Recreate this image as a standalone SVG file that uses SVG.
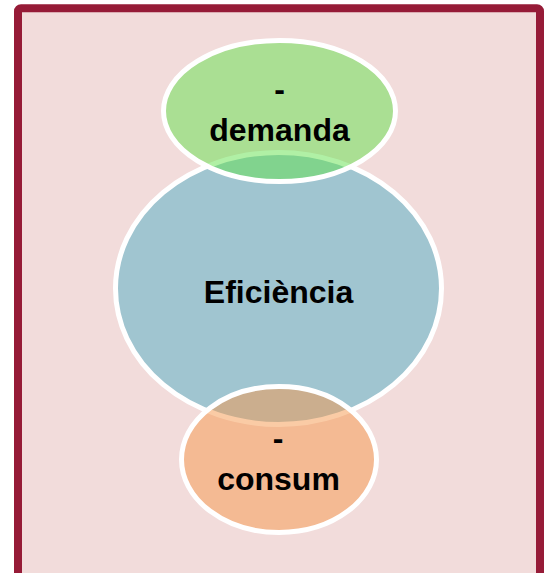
<svg xmlns="http://www.w3.org/2000/svg" width="545" height="573" viewBox="0 0 545 573">
  <style>
    .lbl { font-family: "Liberation Sans", Arial, sans-serif; font-weight: bold; font-size: 32px; fill: #000000; text-anchor: middle; }
    .node { stroke: #FFFFFF; stroke-width: 5; }
  </style>
  <rect width="545" height="573" fill="#FFFFFF"/>
  <g id="frame">
    <rect x="18" y="8.3" width="522" height="600" rx="3" ry="3" fill="#F2DCDB" stroke="#961B37" stroke-width="8"/>
  </g>
  <g id="connectors"></g>
  <g id="node-eficiencia">
    <ellipse class="node" cx="278.5" cy="288.5" rx="163" ry="136" fill="#A0C5D0"/>
    <text class="lbl" x="278.5" y="303">Eficiència</text>
  </g>
  <g id="node-demanda">
    <ellipse class="node" cx="279.5" cy="111" rx="116" ry="70.5" fill="#62E24B" fill-opacity="0.5"/>
    <text class="lbl" x="279.5" y="100">-</text>
    <text class="lbl" x="279.5" y="141">demanda</text>
  </g>
  <g id="node-consum">
    <ellipse class="node" cx="279" cy="459.5" rx="97.5" ry="73" fill="#F6984B" fill-opacity="0.5"/>
    <text class="lbl" x="278" y="449">-</text>
    <text class="lbl" x="278.5" y="490">consum</text>
  </g>
</svg>
